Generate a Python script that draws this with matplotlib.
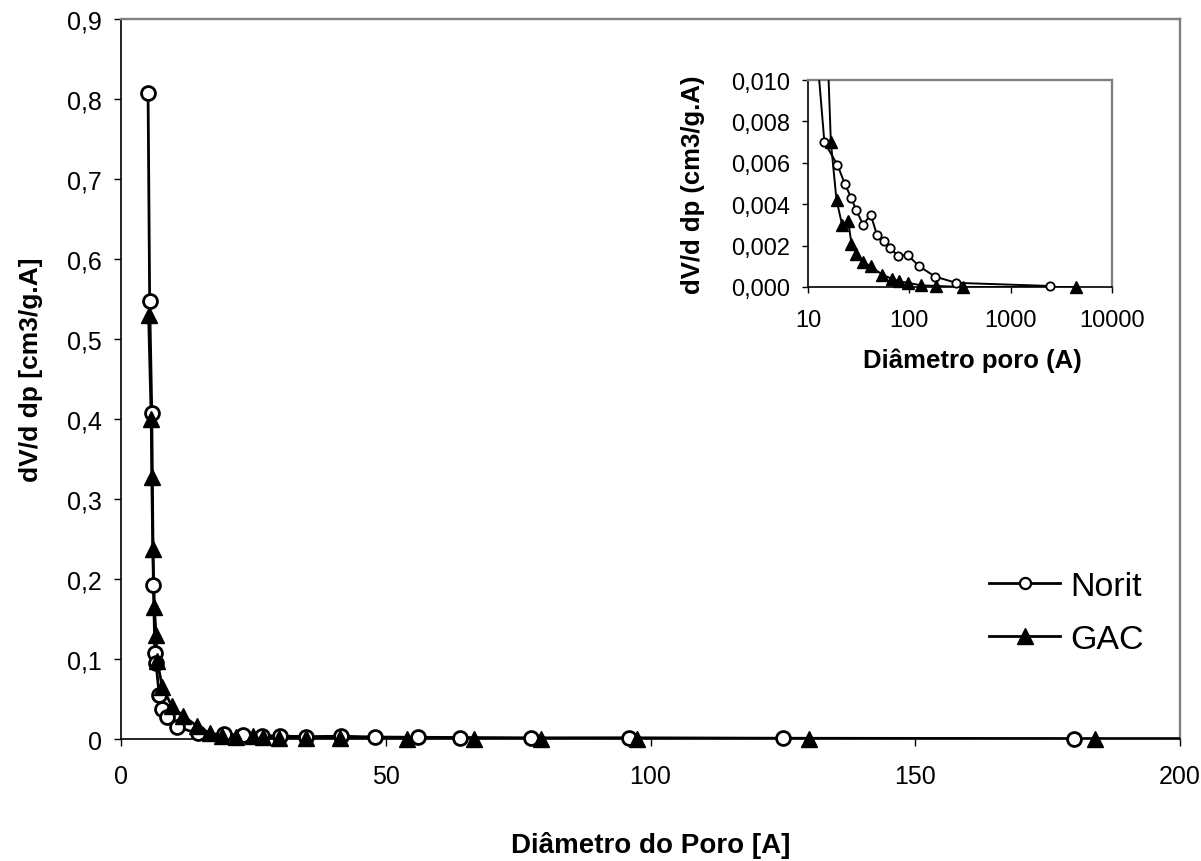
import matplotlib
matplotlib.use("Agg")
import matplotlib.pyplot as plt
import numpy as np
from matplotlib.ticker import FixedLocator, FuncFormatter, NullLocator
from matplotlib.lines import Line2D

plt.rcParams['font.family'] = ['Liberation Sans', 'DejaVu Sans']

# ---- data ----
norit_x = [5.1, 5.4, 5.8, 6.1, 6.4, 6.6, 7.2, 7.8, 8.7, 10.6, 14.5, 19.5, 23.0, 26.7,
           30.0, 35.0, 41.5, 48.0, 56.0, 64.0, 77.5, 96.0, 125.0, 180.0, 290.0, 2420.0]
norit_y = [0.808, 0.548, 0.408, 0.193, 0.107, 0.095, 0.055, 0.038, 0.028, 0.015, 0.0070,
           0.0059, 0.0050, 0.0043, 0.0037, 0.0030, 0.0035, 0.0025, 0.0022, 0.0019, 0.0015,
           0.00155, 0.0010, 0.0005, 0.0002, 0.00005]

gac_x = [5.2, 5.7, 5.8, 6.0, 6.3, 6.6, 6.8, 7.8, 9.6, 11.7, 14.4, 16.8, 19.1, 21.7, 24.9,
         26.8, 29.9, 35.0, 41.4, 54.0, 66.7, 79.4, 97.5, 130.0, 184.0, 336.0, 4400.0]
gac_y = [0.53, 0.40, 0.327, 0.237, 0.165, 0.13, 0.098, 0.065, 0.041, 0.029, 0.016, 0.0070,
         0.0042, 0.0030, 0.0032, 0.0021, 0.0016, 0.0012, 0.0010, 0.0006, 0.0004, 0.00027,
         0.0002, 0.00008, 0.00005, 0.0, 0.0]

series_labels = ['Norit', 'GAC']
main_xticks = [0, 50, 100, 150, 200]
main_yticks = [0, 0.1, 0.2, 0.3, 0.4, 0.5, 0.6, 0.7, 0.8, 0.9]
inset_xticks = [10, 100, 1000, 10000]
inset_yticks = [0, 0.002, 0.004, 0.006, 0.008, 0.010]

main_xlabel = 'Diâmetro do Poro [A]'
main_ylabel = 'dV/d dp [cm3/g.A]'
inset_xlabel = 'Diâmetro poro (A)'
inset_ylabel = 'dV/d dp (cm3/g.A)'

GREY = '#808080'

fig = plt.figure(figsize=(12.01, 8.62), dpi=100)


def style_axes(ax, lw):
    for s in ['left', 'bottom']:
        ax.spines[s].set_color('black')
        ax.spines[s].set_linewidth(lw)
    for s in ['top', 'right']:
        ax.spines[s].set_color(GREY)
        ax.spines[s].set_linewidth(lw + 0.5)


def plot_series(ax, x, y, xlo, xhi, ylo, yhi, marker, ms, mew, lw, mfc):
    x = np.asarray(x)
    y = np.asarray(y)
    ax.plot(x, y, color='black', lw=lw, zorder=3)
    m = (x >= xlo) & (x <= xhi) & (y >= ylo) & (y <= yhi)
    ax.plot(x[m], y[m], ls='none', marker=marker, ms=ms, mew=mew, mfc=mfc,
            mec='black', clip_on=False, zorder=4)


# ---- main axes ----
ax = fig.add_axes([0.1008, 0.1415, 0.8817, 0.8353])
style_axes(ax, 1.2)
ax.set_xlim(0, 200)
ax.set_ylim(0, 0.9)
plot_series(ax, norit_x, norit_y, 0, 200, 0, 0.9, marker='o', ms=10, mew=2.0, lw=2.0, mfc='white')
plot_series(ax, gac_x, gac_y, 0, 200, 0, 0.9, marker='^', ms=12, mew=1.0, lw=2.0, mfc='black')
ax.xaxis.set_major_locator(FixedLocator(main_xticks))
ax.yaxis.set_major_locator(FixedLocator(main_yticks))
ax.xaxis.set_major_formatter(FuncFormatter(lambda v, p: f'{v:g}'))
ax.yaxis.set_major_formatter(FuncFormatter(lambda v, p: f'{v:.1f}'.replace('.', ',') if v != 0 else '0'))
ax.tick_params(axis='both', direction='out', length=5, width=1, labelsize=18, colors='black')
ax.tick_params(axis='x', pad=13)
ax.tick_params(axis='y', pad=9)
ax.set_xlabel(main_xlabel, fontsize=20, fontweight='bold')
ax.set_ylabel(main_ylabel, fontsize=19, fontweight='bold')
ax.xaxis.set_label_coords(0.5, -0.128)
ax.yaxis.set_label_coords(-0.074, 0.514)

handles = [
    Line2D([], [], color='black', lw=2.0, marker='o', ms=8, mfc='white', mec='black', mew=1.6),
    Line2D([], [], color='black', lw=2.0, marker='^', ms=12, mfc='black', mec='black'),
]
leg = ax.legend(handles, series_labels, loc='center left', bbox_to_anchor=(0.8235, 0.288),
                bbox_transform=fig.transFigure, frameon=False, fontsize=24.5,
                handlelength=2.1, handletextpad=0.3, labelspacing=0.66, borderpad=0,
                borderaxespad=0)

# ---- inset axes ----
ins = fig.add_axes([0.6728, 0.6659, 0.2531, 0.2401])
style_axes(ins, 1.2)
ins.set_xscale('log')
ins.set_xlim(10, 10000)
ins.set_ylim(0, 0.010)
plot_series(ins, norit_x, norit_y, 10, 10000, 0, 0.010, marker='o', ms=6, mew=1.3, lw=1.4, mfc='white')
plot_series(ins, gac_x, gac_y, 10, 10000, 0, 0.010, marker='^', ms=8, mew=1.0, lw=1.4, mfc='black')
ins.xaxis.set_major_locator(FixedLocator(inset_xticks))
ins.xaxis.set_minor_locator(NullLocator())
ins.yaxis.set_major_locator(FixedLocator(inset_yticks))
ins.xaxis.set_major_formatter(FuncFormatter(lambda v, p: f'{v:.0f}'))
ins.yaxis.set_major_formatter(FuncFormatter(lambda v, p: f'{v:.3f}'.replace('.', ',')))
ins.tick_params(axis='both', direction='out', length=4, width=1, labelsize=17, colors='black')
ins.tick_params(axis='x', pad=12)
ins.tick_params(axis='y', pad=9)
ins.set_xlabel(inset_xlabel, fontsize=18.5, fontweight='bold')
ins.set_ylabel(inset_ylabel, fontsize=18.5, fontweight='bold')
ins.xaxis.set_label_coords(0.54, -0.29)
ins.yaxis.set_label_coords(-0.34, 0.498)

fig.savefig('out.png', dpi=100)
